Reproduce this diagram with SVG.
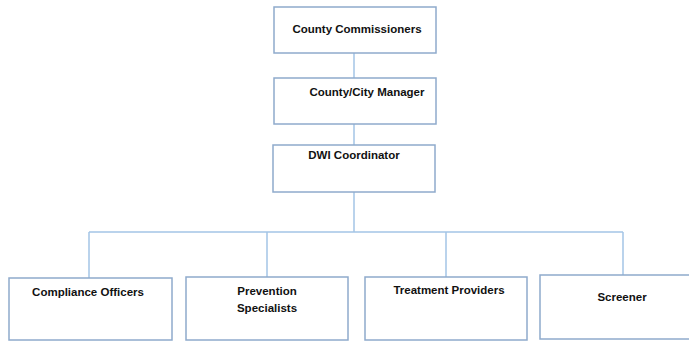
<svg xmlns="http://www.w3.org/2000/svg" width="689" height="341" viewBox="0 0 689 341">
<style>
.box{fill:#ffffff;stroke:#8faacc;stroke-width:1.5}
.lbl{font-family:"Liberation Sans",Arial,sans-serif;font-weight:bold;font-size:11.5px;fill:#111111}
.con{fill:none;stroke:#a3c4e6;stroke-width:1.5}
</style>
<rect width="689" height="341" fill="#ffffff"/>
<g id="connectors">
<line class="con" x1="354" y1="53" x2="354" y2="78"/>
<line class="con" x1="354" y1="124" x2="354" y2="145"/>
<line class="con" x1="354" y1="192" x2="354" y2="232"/>
<line class="con" x1="89" y1="232" x2="623" y2="232"/>
<line class="con" x1="89" y1="232" x2="89" y2="278"/>
<line class="con" x1="267" y1="232" x2="267" y2="277"/>
<line class="con" x1="446" y1="232" x2="446" y2="277"/>
<line class="con" x1="623" y1="232" x2="623" y2="275"/>
</g>
<g id="county-commissioners">
<rect class="box" x="274" y="7" width="162" height="46"/>
<text class="lbl" x="357" y="33" text-anchor="middle">County Commissioners</text>
</g>
<g id="county-city-manager">
<rect class="box" x="274" y="78" width="162" height="46"/>
<text class="lbl" x="367" y="96" text-anchor="middle">County/City Manager</text>
</g>
<g id="dwi-coordinator">
<rect class="box" x="273" y="145" width="162" height="47"/>
<text class="lbl" x="354" y="159" text-anchor="middle">DWI Coordinator</text>
</g>
<g id="compliance-officers">
<rect class="box" x="9" y="278" width="163" height="62"/>
<text class="lbl" x="88" y="296" text-anchor="middle">Compliance Officers</text>
</g>
<g id="prevention-specialists">
<rect class="box" x="186" y="277" width="162" height="63"/>
<text class="lbl" x="267" y="295" text-anchor="middle">Prevention</text>
<text class="lbl" x="267" y="312" text-anchor="middle">Specialists</text>
</g>
<g id="treatment-providers">
<rect class="box" x="365" y="277" width="162" height="63"/>
<text class="lbl" x="449" y="294" text-anchor="middle">Treatment Providers</text>
</g>
<g id="screener">
<rect class="box" x="540" y="275" width="155" height="64"/>
<text class="lbl" x="622" y="301" text-anchor="middle">Screener</text>
</g>
</svg>
